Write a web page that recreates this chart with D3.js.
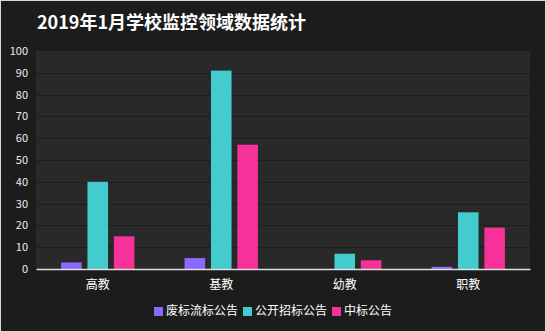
<!DOCTYPE html>
<html>
<head>
<meta charset="utf-8">
<script src="https://cdn.jsdelivr.net/npm/d3@7"></script>
<style>
  html, body { margin: 0; padding: 0; background: #1c1c1c; }
  svg { display: block; }
</style>
</head>
<body>
<svg id="chart" width="546" height="332"></svg>
<script>
const title = "2019年1月学校监控领域数据统计";
const categories = ["高教", "基教", "幼教", "职教"];
const seriesNames = ["废标流标公告", "公开招标公告", "中标公告"];
const seriesColors = ["#8B69FF", "#44CBCD", "#F63199"];
const abandoned = [3, 5, 0, 1];
const openTender = [40, 91, 7, 26];
const winning = [15, 57, 4, 19];
const yTicks = [0, 10, 20, 30, 40, 50, 60, 70, 80, 90, 100];

const series = [abandoned, openTender, winning];
const W = 546, H = 332;
const margin = { left: 36, right: 16, top: 51, bottom: 63 };
const fontFamily = "'Noto Sans CJK SC', 'Noto Sans', sans-serif";

const svg = d3.select("#chart");

// page background and frame
svg.append("rect").attr("x", 0).attr("y", 0).attr("width", W).attr("height", H)
  .attr("fill", "#1c1c1c");
svg.append("rect").attr("x", 0.5).attr("y", 0.5).attr("width", W - 1).attr("height", H - 1)
  .attr("fill", "none").attr("stroke", "#d8d8d8").attr("stroke-width", 1);

// title
svg.append("text")
  .attr("x", 37).attr("y", 29)
  .attr("fill", "#ffffff")
  .attr("font-family", fontFamily)
  .attr("font-size", 18).attr("font-weight", "bold")
  .text(title);

const x0 = d3.scaleBand().domain(categories)
  .range([margin.left, W - margin.right]).paddingInner(0).paddingOuter(0);
const x1 = d3.scaleBand().domain(d3.range(series.length))
  .range([0, x0.bandwidth()]).paddingInner(0.22).paddingOuter(0.95);
const y = d3.scaleLinear().domain([0, 100]).range([H - margin.bottom, margin.top]);

// plot background
svg.append("rect")
  .attr("x", margin.left).attr("y", y(100))
  .attr("width", W - margin.right - margin.left)
  .attr("height", y(0) - y(100))
  .attr("fill", "#292929");

// horizontal grid lines
svg.append("g").selectAll("line")
  .data(yTicks.filter(d => d > 0 && d < 100))
  .join("line")
  .attr("x1", margin.left).attr("x2", W - margin.right)
  .attr("y1", d => Math.round(y(d)) + 0.5).attr("y2", d => Math.round(y(d)) + 0.5)
  .attr("stroke", "#1d1d1d").attr("stroke-width", 1);

// y axis labels
const yAxis = d3.axisLeft(y).tickValues(yTicks).tickSize(0).tickPadding(8);
const gy = svg.append("g").attr("transform", `translate(${margin.left},0)`).call(yAxis);
gy.select(".domain").remove();
gy.selectAll("text")
  .attr("fill", "#e6eef8")
  .attr("font-family", fontFamily)
  .attr("font-size", 11);

// bars
const groups = svg.append("g").selectAll("g")
  .data(categories)
  .join("g")
  .attr("transform", d => `translate(${x0(d)},0)`);

groups.selectAll("rect")
  .data((c, i) => series.map((s, k) => ({ k, v: s[i] })))
  .join("rect")
  .attr("x", d => x1(d.k))
  .attr("width", x1.bandwidth())
  .attr("y", d => y(d.v))
  .attr("height", d => y(0) - y(d.v))
  .attr("fill", d => seriesColors[d.k]);

// x axis
const xAxis = d3.axisBottom(x0).tickSize(0).tickPadding(11);
const gx = svg.append("g").attr("transform", `translate(0,${y(0)})`).call(xAxis);
gx.select(".domain").attr("stroke", "#e0e0e0").attr("stroke-width", 1.5);
gx.selectAll("text")
  .attr("fill", "#ffffff")
  .attr("font-family", fontFamily)
  .attr("font-size", 12);

// legend
const legend = svg.append("g");
const items = legend.selectAll("g").data(seriesNames).join("g");
items.append("rect")
  .attr("width", 9).attr("height", 9).attr("y", -8)
  .attr("fill", (d, i) => seriesColors[i]);
items.append("text")
  .attr("x", 12).attr("y", 0)
  .attr("fill", "#ffffff")
  .attr("font-family", fontFamily)
  .attr("font-size", 12)
  .text(d => d);
let offset = 0;
items.each(function () {
  const g = d3.select(this);
  g.attr("transform", `translate(${offset},0)`);
  offset += g.node().getBBox().width + 5;
});
const totalW = offset - 5;
legend.attr("transform", `translate(${(W - totalW) / 2},${315})`);
</script>
</body>
</html>
